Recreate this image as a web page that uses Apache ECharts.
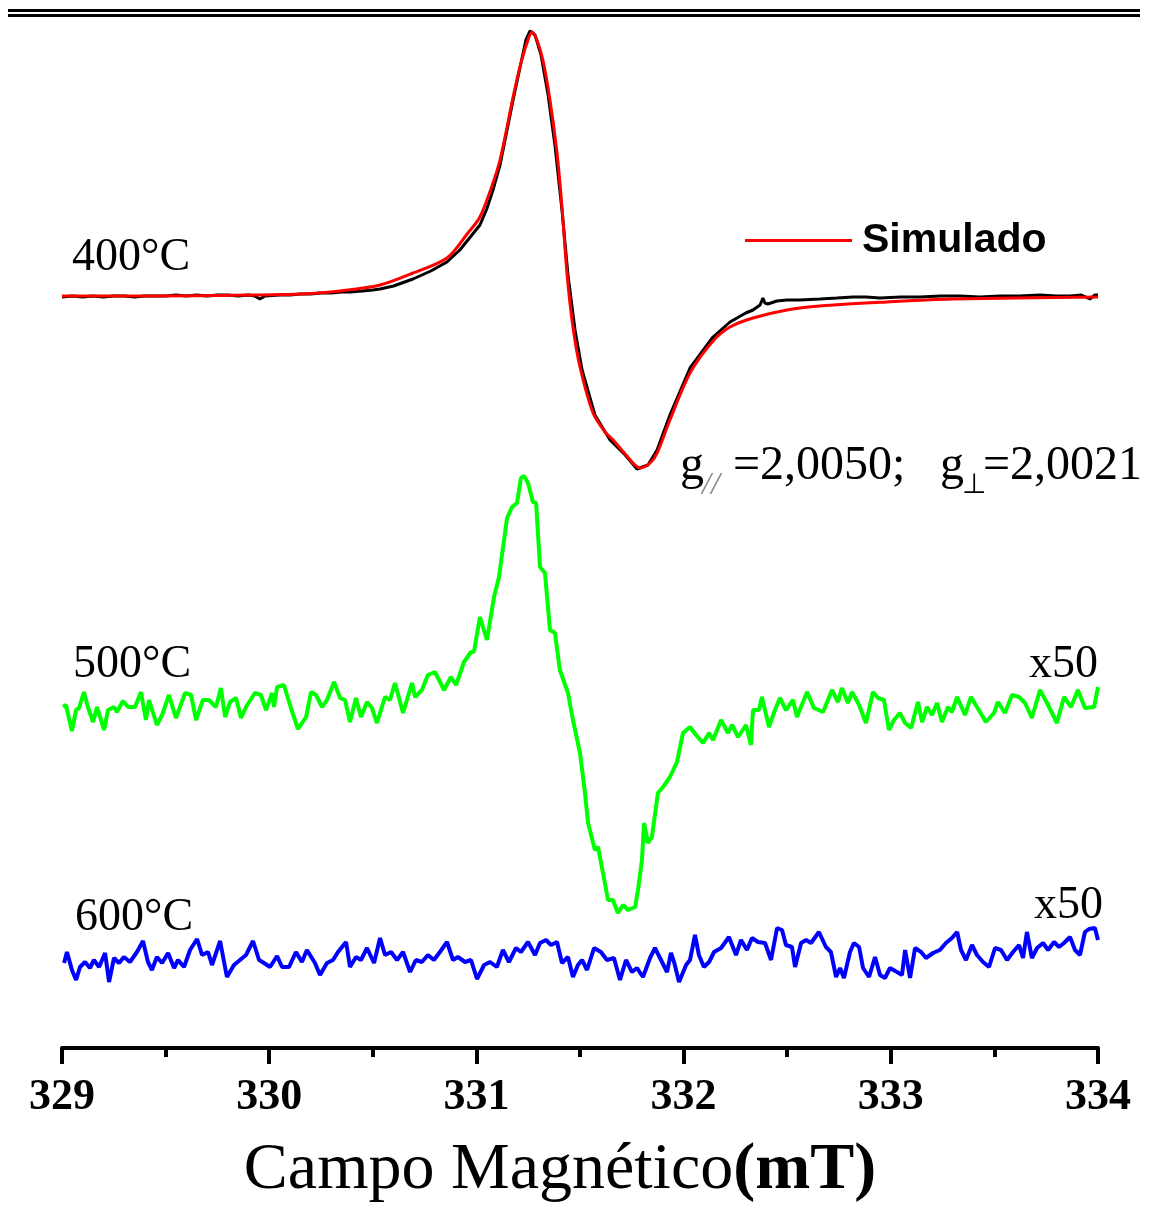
<!DOCTYPE html>
<html>
<head>
<meta charset="utf-8">
<title>EPR</title>
<script src="https://cdn.jsdelivr.net/npm/echarts@6/dist/echarts.min.js"></script>
<style>
  html, body { margin: 0; padding: 0; background: #fff; }
  #chart { width: 1150px; height: 1207px; }
</style>
</head>
<body>
<div id="chart"></div>
<script>
var fieldExp = [329.000, 329.05, 329.10, 329.15, 329.20, 329.25, 329.30, 329.35, 329.40, 329.45,
    329.50, 329.55, 329.60, 329.65, 329.70, 329.75, 329.80, 329.85, 329.90, 329.93,
    329.955, 329.98, 330.05, 330.10, 330.15, 330.20, 330.25, 330.30, 330.35, 330.39,
    330.45, 330.50, 330.535, 330.60, 330.694, 330.78, 330.858, 330.92, 330.959, 331.017,
    331.050, 331.080, 331.114, 331.148, 331.177, 331.210, 331.239, 331.259, 331.283, 331.312,
    331.346, 331.379, 331.413, 331.442, 331.476, 331.510, 331.572, 331.645, 331.718, 331.775,
    331.828, 331.872, 331.934, 332.031, 332.142, 332.224, 332.30, 332.335, 332.369, 332.383,
    332.392, 332.407, 332.45, 332.499, 332.56, 332.658, 332.74, 332.817, 332.88, 332.948,
    333.05, 333.141, 333.24, 333.334, 333.43, 333.527, 333.62, 333.720, 333.80, 333.865,
    333.92, 333.961, 333.985, 334.000];
var signalExp = [0, 1, 0, 1, 0, 1, 1, 0, 1, 1,
    1, 2, 1, 2, 1, 2, 2, 1, 2, 1,
    -2, 1, 2, 2, 3, 3, 4, 4, 5, 5,
    6, 7, 8, 11, 18, 26, 35, 47, 57, 72,
    88, 107, 132, 167, 197, 229, 257, 266, 262, 242,
    202, 152, 87, 22, -33, -73, -118, -143, -158, -172,
    -168, -153, -118, -71, -40, -25, -16, -13, -8, -1,
    -6, -7, -4, -3, -3, -2, -1, 0, 0, -1,
    0, 0, 1, 1, 0, 1, 1, 2, 1, 1,
    2, -2, 2, 2];

var fieldSim = [329.000, 329.425, 329.907, 330.149, 330.342, 330.535, 330.694, 330.858, 330.959, 331.017,
    331.080, 331.114, 331.148, 331.177, 331.210, 331.244, 331.268, 331.292, 331.321, 331.355,
    331.389, 331.413, 331.437, 331.466, 331.500, 331.563, 331.621, 331.660, 331.718, 331.790,
    331.838, 331.872, 331.934, 332.031, 332.142, 332.224, 332.335, 332.499, 332.658, 332.981,
    333.300, 334.000];
var signalSim = [1, 1, 2, 3, 6, 12, 24, 39, 64, 80,
    114, 137, 170, 200, 230, 254, 265, 257, 237, 197,
    144, 90, 24, -30, -70, -116, -135, -143, -157, -171,
    -166, -156, -123, -76, -44, -30, -21, -13, -9, -5,
    -2, 0];

var field500 = [329.005, 329.019, 329.048, 329.068, 329.082, 329.106, 329.125, 329.150, 329.169, 329.203,
    329.222, 329.251, 329.265, 329.294, 329.319, 329.352, 329.381, 329.405, 329.420, 329.458,
    329.483, 329.516, 329.550, 329.594, 329.623, 329.647, 329.680, 329.709, 329.743, 329.767,
    329.787, 329.811, 329.840, 329.864, 329.888, 329.931, 329.960, 329.985, 330.014, 330.023,
    330.038, 330.071, 330.105, 330.139, 330.178, 330.202, 330.226, 330.255, 330.279, 330.313,
    330.342, 330.366, 330.390, 330.419, 330.443, 330.472, 330.496, 330.520, 330.559, 330.583,
    330.607, 330.646, 330.689, 330.704, 330.737, 330.766, 330.800, 330.844, 330.877, 330.902,
    330.940, 330.974, 330.988, 331.017, 331.051, 331.085, 331.109, 331.148, 331.172, 331.196,
    331.215, 331.230, 331.249, 331.273, 331.288, 331.307, 331.331, 331.355, 331.379, 331.403,
    331.442, 331.466, 331.500, 331.524, 331.539, 331.572, 331.587, 331.611, 331.635, 331.659,
    331.683, 331.708, 331.732, 331.766, 331.780, 331.799, 331.809, 331.828, 331.847, 331.876,
    331.901, 331.934, 331.968, 331.997, 332.031, 332.060, 332.094, 332.123, 332.142, 332.181,
    332.214, 332.234, 332.263, 332.301, 332.325, 332.335, 332.364, 332.378, 332.412, 332.441,
    332.465, 332.494, 332.528, 332.547, 332.596, 332.629, 332.673, 332.716, 332.745, 332.764,
    332.793, 332.813, 332.847, 332.880, 332.914, 332.938, 332.967, 332.991, 333.015, 333.044,
    333.069, 333.098, 333.131, 333.151, 333.175, 333.199, 333.223, 333.247, 333.276, 333.295,
    333.320, 333.358, 333.387, 333.416, 333.459, 333.498, 333.517, 333.551, 333.585, 333.619,
    333.648, 333.681, 333.720, 333.754, 333.802, 333.836, 333.870, 333.903, 333.937, 333.981,
    334.000];
var signal500 = [3, 5, -21, 0, 2, 18, 3, -12, 3, -20,
    0, 3, -2, 9, 3, 3, 18, -10, 10, -15,
    -5, 15, -8, 17, 15, -10, 10, 10, 3, 22,
    -7, 8, 12, -8, 3, 17, 15, 0, 17, 3,
    23, 25, 2, -19, -7, 18, 15, 3, 10, 28,
    12, 10, -12, 12, -7, 8, 2, -13, 13, 10,
    27, -3, 27, 13, 20, 35, 38, 20, 33, 25,
    48, 58, 58, 93, 70, 113, 133, 192, 203, 207,
    232, 234, 227, 208, 207, 143, 137, 80, 77, 40,
    17, -10, -43, -83, -113, -140, -137, -163, -190, -190,
    -203, -195, -200, -197, -180, -150, -113, -133, -127, -83,
    -77, -67, -52, -23, -17, -25, -33, -23, -30, -10,
    -23, -15, -27, -15, -35, 0, 0, 13, -17, 0,
    12, 0, 10, -7, 18, 2, -2, 20, 8, 22,
    7, 18, 5, -13, 18, 12, 10, -20, -10, -3,
    -13, -18, 8, -12, 3, -5, 7, -12, 3, -2,
    13, -5, 13, 3, -12, -3, 8, -3, 15, 13,
    7, -8, 20, 7, -13, 13, 3, 20, 2, 3,
    23];

var field600 = [329.010, 329.024, 329.048, 329.068, 329.087, 329.111, 329.135, 329.154, 329.179, 329.208,
    329.227, 329.251, 329.275, 329.299, 329.328, 329.362, 329.391, 329.415, 329.434, 329.458,
    329.483, 329.512, 329.541, 329.560, 329.589, 329.618, 329.652, 329.676, 329.705, 329.724,
    329.763, 329.796, 329.830, 329.859, 329.888, 329.922, 329.951, 329.975, 330.004, 330.038,
    330.062, 330.096, 330.129, 330.158, 330.182, 330.221, 330.245, 330.279, 330.308, 330.332,
    330.371, 330.390, 330.419, 330.443, 330.472, 330.506, 330.535, 330.559, 330.588, 330.617,
    330.646, 330.680, 330.708, 330.737, 330.766, 330.795, 330.824, 330.858, 330.887, 330.911,
    330.945, 330.974, 331.003, 331.037, 331.066, 331.099, 331.128, 331.157, 331.191, 331.215,
    331.249, 331.283, 331.307, 331.336, 331.360, 331.389, 331.413, 331.442, 331.466, 331.490,
    331.510, 331.534, 331.568, 331.601, 331.630, 331.664, 331.693, 331.722, 331.751, 331.775,
    331.804, 331.838, 331.862, 331.891, 331.920, 331.939, 331.954, 331.978, 332.012, 332.031,
    332.055, 332.074, 332.098, 332.123, 332.147, 332.181, 332.219, 332.253, 332.277, 332.306,
    332.330, 332.359, 332.393, 332.422, 332.451, 332.475, 332.494, 332.523, 332.538, 332.567,
    332.591, 332.615, 332.653, 332.687, 332.711, 332.736, 332.755, 332.774, 332.803, 332.822,
    332.847, 332.866, 332.895, 332.924, 332.948, 332.972, 332.996, 333.030, 333.054, 333.069,
    333.093, 333.117, 333.146, 333.170, 333.204, 333.237, 333.266, 333.295, 333.320, 333.339,
    333.363, 333.392, 333.416, 333.445, 333.474, 333.503, 333.532, 333.561, 333.590, 333.619,
    333.638, 333.657, 333.681, 333.706, 333.735, 333.759, 333.788, 333.812, 333.836, 333.865,
    333.889, 333.913, 333.937, 333.957, 333.985, 334.000];
var signal600 = [-3, 8, -10, -20, -7, -2, -8, 0, -7, 7,
    -22, 2, -3, 3, -2, 8, 19, -2, -10, 3,
    -3, 7, -8, 0, -7, 10, 21, 5, 8, -5,
    19, -17, -5, 0, 5, 19, 0, -3, -7, 4,
    -7, -7, 8, -2, 10, -3, -15, -3, 0, 8,
    18, -7, 3, 0, 12, -3, 22, 5, 8, 0,
    8, -12, 0, -2, 5, 0, 8, 18, 0, 3,
    -2, 0, -19, -5, -2, -7, 10, -2, 12, 8,
    18, 5, 17, 20, 15, 18, -3, 3, -17, -5,
    0, -10, 12, 8, 0, 2, -20, 0, -12, -8,
    -17, 2, 12, 0, -12, 7, -2, -22, -5, 0,
    25, 5, -7, -2, 8, 12, 23, 5, 20, 10,
    22, 18, 17, 0, 32, 30, 15, 13, -7, 17,
    20, 17, 28, 13, 8, -17, -8, -18, 8, 17,
    13, -8, -17, 3, -15, -18, -8, -12, -15, 10,
    -18, 12, 8, 2, 7, 10, 17, 22, 28, 10,
    0, 15, 5, -2, -7, 12, 10, 0, 8, 15,
    2, 28, 2, 12, 17, 10, 18, 13, 17, 23,
    10, 5, 28, 31, 32, 20];

// deslocamento vertical de cada espectro
var offsetExp = 751;
var offset500 = 338;
var offset600 = 88;

function toPairs(fields, signals, offset) {
    var out = [];
    for (var i = 0; i < fields.length; i++) {
        out.push([fields[i], signals[i] + offset]);
    }
    return out;
}

var mychart = echarts.init(document.getElementById('chart'));

var serif = "'Liberation Serif', 'Times New Roman', serif";

function label(text, x, y, align, size) {
    return {
        type: 'text',
        x: x,
        y: y,
        style: {
            text: text,
            fontFamily: serif,
            fontSize: size || 46,
            fill: '#000',
            textAlign: align || 'left',
            textVerticalAlign: 'middle'
        }
    };
}

var option = {
    animation: false,
    backgroundColor: '#fff',
    grid: {
        left: 62,
        right: 52,
        top: 20,
        bottom: 159,
        containLabel: false,
        outerBoundsMode: 'none'
    },
    legend: {
        data: [{ name: 'Simulado', icon: 'rect' }],
        left: 745,
        top: 220,
        padding: 0,
        itemWidth: 107,
        itemHeight: 3,
        textStyle: {
            fontFamily: "'Liberation Sans', Arial, sans-serif",
            fontWeight: 'bold',
            fontSize: 41,
            color: '#000',
            padding: [0, 0, 0, 5]
        }
    },
    xAxis: {
        type: 'value',
        min: 329,
        max: 334,
        interval: 1,
        name: '{a|Campo Magnético}{b|(mT)}',
        nameLocation: 'middle',
        nameGap: 90,
        nameTextStyle: {
            padding: [0, 40, 0, 0],
            rich: {
                a: { fontFamily: serif, fontSize: 66, color: '#000' },
                b: { fontFamily: serif, fontSize: 66, fontWeight: 'bold', color: '#000' }
            }
        },
        axisLine: {
            lineStyle: { color: '#000', width: 4 }
        },
        axisTick: {
            length: 16,
            lineStyle: { color: '#000', width: 4 }
        },
        minorTick: {
            show: true,
            splitNumber: 2,
            length: 9,
            lineStyle: { color: '#000', width: 4 }
        },
        splitLine: { show: false },
        axisLabel: {
            margin: 28,
            fontFamily: serif,
            fontWeight: 'bold',
            fontSize: 44,
            color: '#000'
        }
    },
    yAxis: {
        type: 'value',
        min: 0,
        max: 1028,
        show: false
    },
    graphic: [
        { type: 'rect', shape: { x: 8, y: 9, width: 1132, height: 3 }, style: { fill: '#000' } },
        { type: 'rect', shape: { x: 8, y: 14, width: 1132, height: 3 }, style: { fill: '#000' } },
        label('400°C', 72, 258),
        label('500°C', 73, 665),
        label('600°C', 75, 918),
        label('x50', 1098, 665, 'right'),
        label('x50', 1103, 906, 'right'),
        label('g', 680, 466, 'left', 48),
        {
            type: 'text', x: 702, y: 486,
            style: { text: '//', fontFamily: serif, fontStyle: 'italic', fontSize: 32, fill: '#888', textVerticalAlign: 'middle' }
        },
        label('=2,0050;', 733, 466, 'left', 48),
        label('g', 940, 466, 'left', 48),
        {
            type: 'text', x: 962, y: 486,
            style: { text: '⊥', fontFamily: serif, fontSize: 28, fill: '#000', textVerticalAlign: 'middle' }
        },
        label('=2,0021', 983, 466, 'left', 48)
    ],
    series: [
        {
            name: 'Experimental',
            type: 'line',
            showSymbol: false,
            data: toPairs(fieldExp, signalExp, offsetExp),
            lineStyle: { color: '#000', width: 3 },
            itemStyle: { color: '#000' }
        },
        {
            name: 'Simulado',
            type: 'line',
            smooth: 0.3,
            showSymbol: false,
            data: toPairs(fieldSim, signalSim, offsetExp),
            lineStyle: { color: '#ff0000', width: 3 },
            itemStyle: { color: '#ff0000' }
        },
        {
            name: '500°C',
            type: 'line',
            showSymbol: false,
            data: toPairs(field500, signal500, offset500),
            lineStyle: { color: '#00ff00', width: 4 },
            itemStyle: { color: '#00ff00' }
        },
        {
            name: '600°C',
            type: 'line',
            showSymbol: false,
            data: toPairs(field600, signal600, offset600),
            lineStyle: { color: '#0000ff', width: 4 },
            itemStyle: { color: '#0000ff' }
        }
    ]
};

mychart.setOption(option);
</script>
</body>
</html>
